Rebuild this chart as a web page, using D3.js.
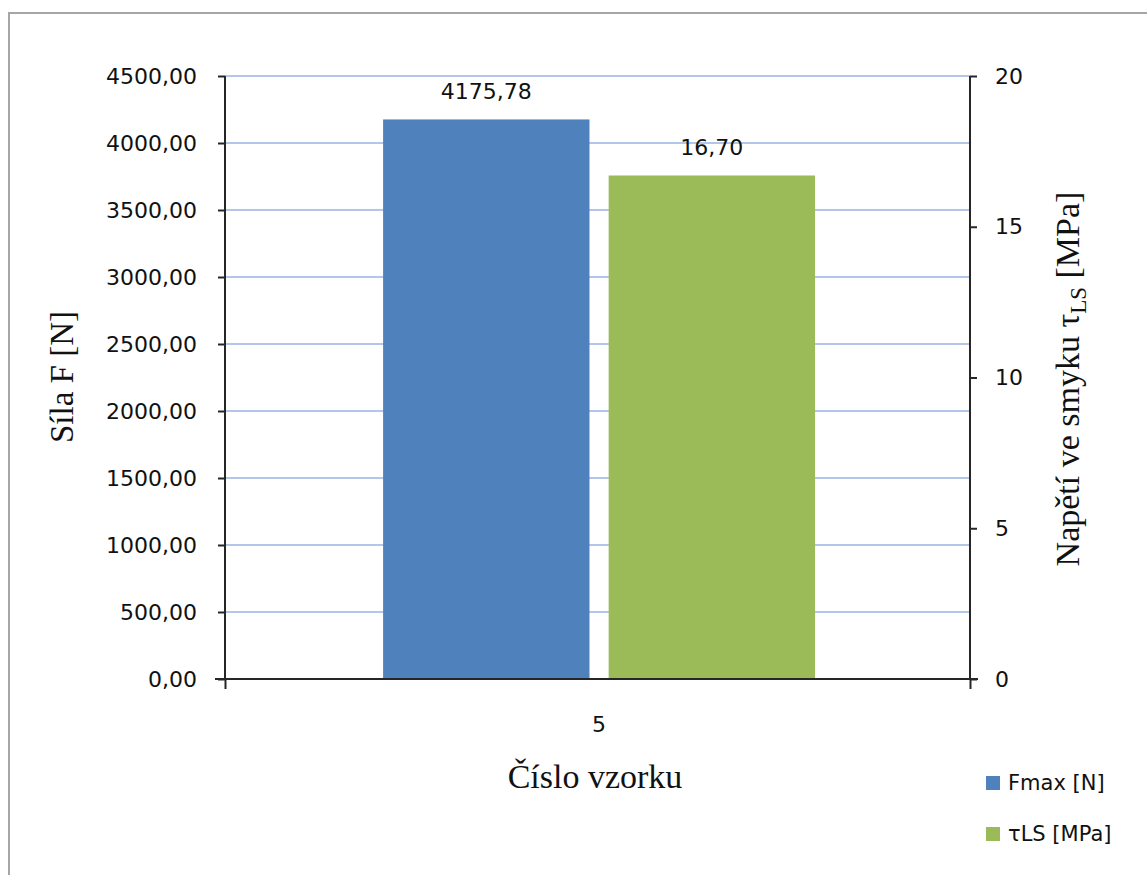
<!DOCTYPE html>
<html>
<head>
<meta charset="utf-8">
<script src="https://cdn.jsdelivr.net/npm/d3@7"></script>
<style>
  html, body { margin: 0; padding: 0; background: #fff; }
  svg { display: block; }
</style>
</head>
<body>
<svg id="chart" width="1147" height="875"></svg>
<script>
// Sample number on the category axis
const categories = ["5"];
// Series: maximum force (left axis) and lap shear stress (right axis)
const seriesNames = ["Fmax [N]", "τLS [MPa]"];
const forceValues = [4175.78];
const stressValues = [16.70];
const forceTicks = [0, 500, 1000, 1500, 2000, 2500, 3000, 3500, 4000, 4500];
const stressTicks = [0, 5, 10, 15, 20];
const colors = ["#4f81bd", "#9bbb59"];

const svg = d3.select("#chart");
const W = 1147, H = 875;
const plot = { left: 225, right: 970, top: 76, bottom: 679 };
const tickFont = "'DejaVu Sans', Verdana, sans-serif";
const serifFont = "'Liberation Serif', 'Times New Roman', serif";
const axisColor = "#262626";

// Outer chart frame
svg.append("rect")
  .attr("x", 9).attr("y", 13)
  .attr("width", W).attr("height", H)
  .attr("fill", "#fff")
  .attr("stroke", "#a6a6a6")
  .attr("stroke-width", 2);

const fmtComma = d => d3.format(".2f")(d).replace(".", ",");

const yLeft = d3.scaleLinear().domain([0, 4500]).range([plot.bottom, plot.top]);
const yRight = d3.scaleLinear().domain([0, 20]).range([plot.bottom, plot.top]);
const x = d3.scaleBand().domain(categories).range([plot.left, plot.right]).padding(0.266).align(0.505);
const xSub = d3.scaleBand().domain(seriesNames).range([0, x.bandwidth()]).paddingInner(0.085);

// Horizontal gridlines from the left axis
svg.append("g")
  .selectAll("line")
  .data(forceTicks.filter(d => d > 0))
  .join("line")
  .attr("x1", plot.left).attr("x2", plot.right)
  .attr("y1", d => yLeft(d)).attr("y2", d => yLeft(d))
  .attr("stroke", "#b3c6ea")
  .attr("stroke-width", 2);

// Bars
const rows = categories.map((c, i) => ({
  cat: c,
  items: [
    { name: seriesNames[0], value: forceValues[i], scale: yLeft, color: colors[0], fmt: fmtComma },
    { name: seriesNames[1], value: stressValues[i], scale: yRight, color: colors[1], fmt: fmtComma }
  ]
}));

const groups = svg.append("g")
  .selectAll("g")
  .data(rows)
  .join("g")
  .attr("transform", d => `translate(${x(d.cat)},0)`);

groups.selectAll("rect")
  .data(d => d.items)
  .join("rect")
  .attr("x", d => xSub(d.name))
  .attr("width", xSub.bandwidth())
  .attr("y", d => d.scale(d.value))
  .attr("height", d => plot.bottom - d.scale(d.value))
  .attr("fill", d => d.color);

groups.selectAll("text")
  .data(d => d.items)
  .join("text")
  .attr("x", d => xSub(d.name) + xSub.bandwidth() / 2)
  .attr("y", d => d.scale(d.value) - 20)
  .attr("text-anchor", "middle")
  .attr("font-family", tickFont)
  .attr("font-size", 22)
  .attr("fill", "#111")
  .text(d => d.fmt(d.value));

// Left axis
const leftAxis = d3.axisLeft(yLeft).tickValues(forceTicks).tickSize(7).tickPadding(21).tickFormat(fmtComma);
const gl = svg.append("g").attr("transform", `translate(${plot.left},0)`).call(leftAxis);
// Right axis
const rightAxis = d3.axisRight(yRight).tickValues(stressTicks).tickSize(7).tickPadding(18).tickFormat(d3.format("d"));
const gr = svg.append("g").attr("transform", `translate(${plot.right},0)`).call(rightAxis);
// Bottom axis: ticks at both ends of the category range
const xEdge = d3.scaleLinear().domain([0, 1]).range([plot.left, plot.right]);
const bottomAxis = d3.axisBottom(xEdge).tickValues([0, 1]).tickSize(10).tickFormat("");
const gb = svg.append("g").attr("transform", `translate(0,${plot.bottom})`).call(bottomAxis);

[gl, gr, gb].forEach(g => {
  g.select(".domain").attr("stroke", axisColor).attr("stroke-width", 2);
  g.selectAll(".tick line").attr("stroke", axisColor).attr("stroke-width", 2);
  g.selectAll(".tick text")
    .attr("font-family", tickFont)
    .attr("font-size", 22)
    .attr("fill", "#111");
});
gl.select(".domain").attr("d", `M0,${plot.top}V${plot.bottom}`);
gr.select(".domain").attr("d", `M0,${plot.top}V${plot.bottom}`);
gb.select(".domain").attr("d", `M${plot.left - 10},0H${plot.right + 8}`);

// Category label
svg.append("g")
  .selectAll("text")
  .data(categories)
  .join("text")
  .attr("x", d => x(d) + x.bandwidth() / 2)
  .attr("y", 732)
  .attr("text-anchor", "middle")
  .attr("font-family", tickFont)
  .attr("font-size", 22)
  .attr("fill", "#111")
  .text(d => d);

// Axis titles
svg.append("text")
  .attr("x", 595).attr("y", 788)
  .attr("text-anchor", "middle")
  .attr("font-family", serifFont)
  .attr("font-size", 34)
  .attr("fill", "#111")
  .text("Číslo vzorku");

svg.append("text")
  .attr("transform", "translate(73,377) rotate(-90)")
  .attr("text-anchor", "middle")
  .attr("font-family", serifFont)
  .attr("font-size", 33)
  .attr("fill", "#111")
  .text("Síla F [N]");

const rt = svg.append("text")
  .attr("transform", "translate(1079,379) rotate(-90)")
  .attr("text-anchor", "middle")
  .attr("font-family", serifFont)
  .attr("font-size", 34)
  .attr("fill", "#111");
rt.append("tspan").text("Napětí ve smyku τ");
rt.append("tspan").attr("font-size", 23).attr("dy", 7).text("LS");
rt.append("tspan").attr("dy", -7).text(" [MPa]");

// Legend
const legend = svg.append("g")
  .selectAll("g")
  .data(seriesNames)
  .join("g")
  .attr("transform", (d, i) => `translate(986,${776 + i * 51})`);
legend.append("rect")
  .attr("width", 14).attr("height", 14)
  .attr("fill", (d, i) => colors[i]);
legend.append("text")
  .attr("x", 22).attr("y", 14)
  .attr("font-family", tickFont)
  .attr("font-size", 21)
  .attr("fill", "#111")
  .text(d => d);
</script>
</body>
</html>
